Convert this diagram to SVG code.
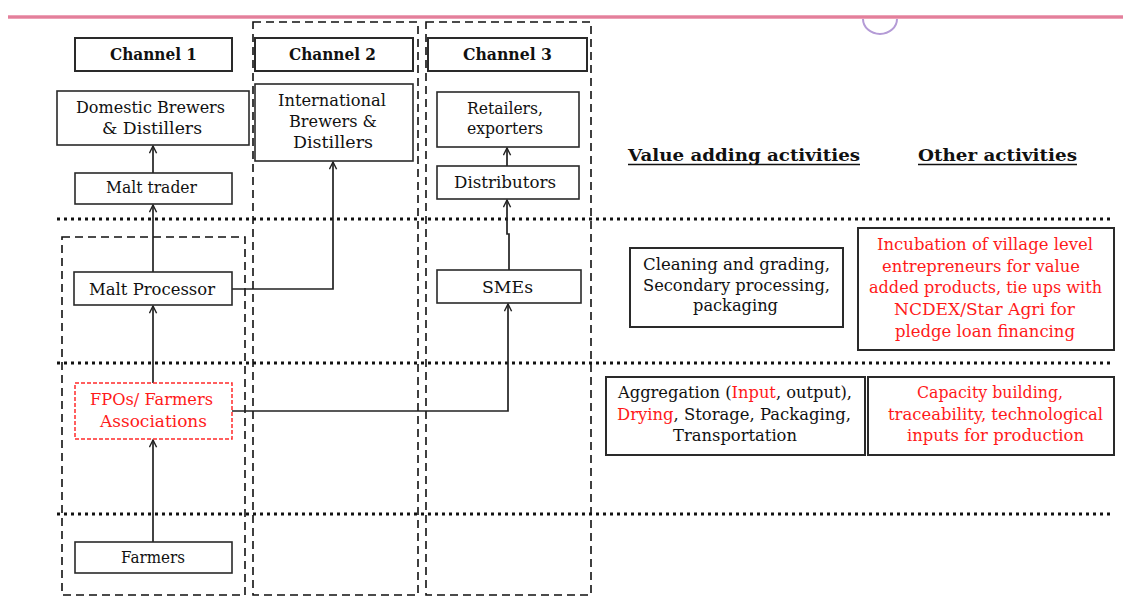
<svg xmlns="http://www.w3.org/2000/svg" width="1123" height="597" viewBox="0 0 1123 597">
  <defs>
    <linearGradient id="rule" x1="0" y1="0" x2="0" y2="1">
      <stop offset="0" stop-color="#f2b3c4"/>
      <stop offset="0.5" stop-color="#de6f8e"/>
      <stop offset="1" stop-color="#f2b3c4"/>
    </linearGradient>
    <marker id="arr" viewBox="0 0 10 10" refX="9" refY="5" markerWidth="9" markerHeight="9" markerUnits="userSpaceOnUse" orient="auto">
      <path d="M1,1 L9,5 L1,9" fill="none" stroke="#222" stroke-width="1.6"/>
    </marker>
  </defs>
  <style>
    .box { fill: #fff; stroke: #2a2a2a; stroke-width: 1.6; }
    .hbox { fill: #fff; stroke: #2a2a2a; stroke-width: 2; }
    .red-box { fill: #fff; stroke: #ff2a2a; stroke-width: 1.5; stroke-dasharray: 4 2; }
    .col { fill: none; stroke: #111; stroke-width: 1.6; stroke-dasharray: 8 5; }
    .dots { fill: none; stroke: #111; stroke-width: 3; stroke-dasharray: 3 4; }
    .t { font-family: "DejaVu Serif", "Liberation Serif", serif; font-size: 16px; fill: #111; text-anchor: middle; }
    .r { fill: #ff1a1a; }
    .h { font-family: "DejaVu Serif", "Liberation Serif", serif; font-size: 17px; font-weight: bold; fill: #111; text-anchor: middle; }
    .conn path { fill: none; stroke: #222; stroke-width: 1.7; }
  </style>

  <rect width="1123" height="597" fill="#fff"/>

  <!-- page rule with tab -->
  <rect x="8" y="15" width="1115" height="4" fill="url(#rule)"/>
  <path d="M863,19 A17,15 0 0 0 897,19" fill="#fff" stroke="#b49bd6" stroke-width="2"/>

  <!-- channel columns and bands -->
  <g id="layout">
    <rect class="col" x="253" y="22" width="165" height="573"/>
    <rect class="col" x="426" y="22" width="165" height="573"/>
    <rect class="col" x="62" y="237" width="183" height="358"/>
    <line class="dots" x1="57" y1="219" x2="1112" y2="219"/>
    <line class="dots" x1="57" y1="363" x2="1112" y2="363"/>
    <line class="dots" x1="57" y1="514" x2="1112" y2="514"/>
  </g>

  <!-- connectors -->
  <g id="connectors" class="conn">
    <path d="M153,173 V146" marker-end="url(#arr)"/>
    <path d="M153,272 V205" marker-end="url(#arr)"/>
    <path d="M232,289 H333 V162" marker-end="url(#arr)"/>
    <path d="M507,166 V148" marker-end="url(#arr)"/>
    <path d="M509,270 V234 H507 V200" marker-end="url(#arr)"/>
    <path d="M153,383 V306" marker-end="url(#arr)"/>
    <path d="M232,411 H508 V304" marker-end="url(#arr)"/>
    <path d="M153,542 V440" marker-end="url(#arr)"/>
  </g>

  <!-- channel headers -->
  <g id="channel1">
    <rect class="hbox" x="75" y="38" width="157" height="33"/>
    <text class="h" x="153.5" y="60" textLength="87" lengthAdjust="spacingAndGlyphs">Channel 1</text>
  </g>
  <g id="channel2">
    <rect class="hbox" x="255" y="38" width="158" height="33"/>
    <text class="h" x="332.5" y="60" textLength="87" lengthAdjust="spacingAndGlyphs">Channel 2</text>
  </g>
  <g id="channel3">
    <rect class="hbox" x="428" y="38" width="159" height="33"/>
    <text class="h" x="507.5" y="60" textLength="89" lengthAdjust="spacingAndGlyphs">Channel 3</text>
  </g>

  <!-- channel 1 chain -->
  <g id="domestic">
    <rect class="box" x="57" y="91" width="192" height="54"/>
    <text class="t" x="150.5" y="113" textLength="149" lengthAdjust="spacingAndGlyphs">Domestic Brewers</text>
    <text class="t" x="152" y="134" textLength="100" lengthAdjust="spacingAndGlyphs">&amp; Distillers</text>
  </g>
  <g id="malt-trader">
    <rect class="box" x="75" y="173" width="157" height="31"/>
    <text class="t" x="151.5" y="193" textLength="91" lengthAdjust="spacingAndGlyphs">Malt trader</text>
  </g>
  <g id="malt-processor">
    <rect class="box" x="74" y="272" width="158" height="33"/>
    <text class="t" x="152" y="295" textLength="126" lengthAdjust="spacingAndGlyphs">Malt Processor</text>
  </g>
  <g id="fpos">
    <rect class="red-box" x="75" y="383" width="157" height="56"/>
    <text class="t r" x="151.5" y="405" textLength="123" lengthAdjust="spacingAndGlyphs">FPOs/ Farmers</text>
    <text class="t r" x="153.5" y="427" textLength="107" lengthAdjust="spacingAndGlyphs">Associations</text>
  </g>
  <g id="farmers">
    <rect class="box" x="75" y="542" width="157" height="31"/>
    <text class="t" x="153" y="563" textLength="64" lengthAdjust="spacingAndGlyphs">Farmers</text>
  </g>

  <!-- channel 2 -->
  <g id="international">
    <rect class="box" x="255" y="84" width="158" height="77"/>
    <text class="t" x="332" y="106" textLength="108" lengthAdjust="spacingAndGlyphs">International</text>
    <text class="t" x="333" y="127" textLength="88" lengthAdjust="spacingAndGlyphs">Brewers &amp;</text>
    <text class="t" x="333" y="148" textLength="80" lengthAdjust="spacingAndGlyphs">Distillers</text>
  </g>

  <!-- channel 3 chain -->
  <g id="retailers">
    <rect class="box" x="437" y="92" width="142" height="55"/>
    <text class="t" x="505" y="114" textLength="76" lengthAdjust="spacingAndGlyphs">Retailers,</text>
    <text class="t" x="505" y="134" textLength="76" lengthAdjust="spacingAndGlyphs">exporters</text>
  </g>
  <g id="distributors">
    <rect class="box" x="437" y="166" width="142" height="33"/>
    <text class="t" x="505" y="188" textLength="102" lengthAdjust="spacingAndGlyphs">Distributors</text>
  </g>
  <g id="smes">
    <rect class="box" x="437" y="270" width="144" height="33"/>
    <text class="t" x="507.5" y="293" textLength="51" lengthAdjust="spacingAndGlyphs">SMEs</text>
  </g>

  <!-- activity headings -->
  <g id="value-heading">
    <text class="h" x="744" y="161" font-size="18" textLength="232" lengthAdjust="spacingAndGlyphs">Value adding activities</text>
    <line x1="628" y1="164.5" x2="860" y2="164.5" stroke="#111" stroke-width="1.5"/>
  </g>
  <g id="other-heading">
    <text class="h" x="997.5" y="161" font-size="18" textLength="159" lengthAdjust="spacingAndGlyphs">Other activities</text>
    <line x1="918" y1="164.5" x2="1077" y2="164.5" stroke="#111" stroke-width="1.5"/>
  </g>

  <!-- processing band activities -->
  <g id="cleaning">
    <rect class="hbox" x="630" y="248" width="213" height="79"/>
    <text class="t" x="736.5" y="270" textLength="187" lengthAdjust="spacingAndGlyphs">Cleaning and grading,</text>
    <text class="t" x="736.5" y="291" textLength="187" lengthAdjust="spacingAndGlyphs">Secondary processing,</text>
    <text class="t" x="735.5" y="311" textLength="85" lengthAdjust="spacingAndGlyphs">packaging</text>
  </g>
  <g id="incubation">
    <rect class="hbox" x="858" y="228" width="256" height="122"/>
    <text class="t r" x="985" y="250" textLength="216" lengthAdjust="spacingAndGlyphs">Incubation of village level</text>
    <text class="t r" x="981" y="272" textLength="198" lengthAdjust="spacingAndGlyphs">entrepreneurs for value</text>
    <text class="t r" x="985.5" y="293" textLength="233" lengthAdjust="spacingAndGlyphs">added products, tie ups with</text>
    <text class="t r" x="984.5" y="315" textLength="181" lengthAdjust="spacingAndGlyphs">NCDEX/Star Agri for</text>
    <text class="t r" x="985" y="337" textLength="180" lengthAdjust="spacingAndGlyphs">pledge loan financing</text>
  </g>

  <!-- aggregation band activities -->
  <g id="aggregation">
    <rect class="hbox" x="606" y="377" width="259" height="78"/>
    <text class="t" x="735" y="398" textLength="234" lengthAdjust="spacingAndGlyphs">Aggregation  (<tspan class="r">Input</tspan>, output),</text>
    <text class="t" x="734" y="420" textLength="234" lengthAdjust="spacingAndGlyphs"><tspan class="r">Drying</tspan>, Storage, Packaging,</text>
    <text class="t" x="735" y="441" textLength="124" lengthAdjust="spacingAndGlyphs">Transportation</text>
  </g>
  <g id="capacity">
    <rect class="hbox" x="868" y="377" width="246" height="78"/>
    <text class="t r" x="990" y="398" textLength="146" lengthAdjust="spacingAndGlyphs">Capacity building,</text>
    <text class="t r" x="995.5" y="420" textLength="215" lengthAdjust="spacingAndGlyphs">traceability, technological</text>
    <text class="t r" x="995.5" y="441" textLength="177" lengthAdjust="spacingAndGlyphs">inputs for production</text>
  </g>
</svg>
